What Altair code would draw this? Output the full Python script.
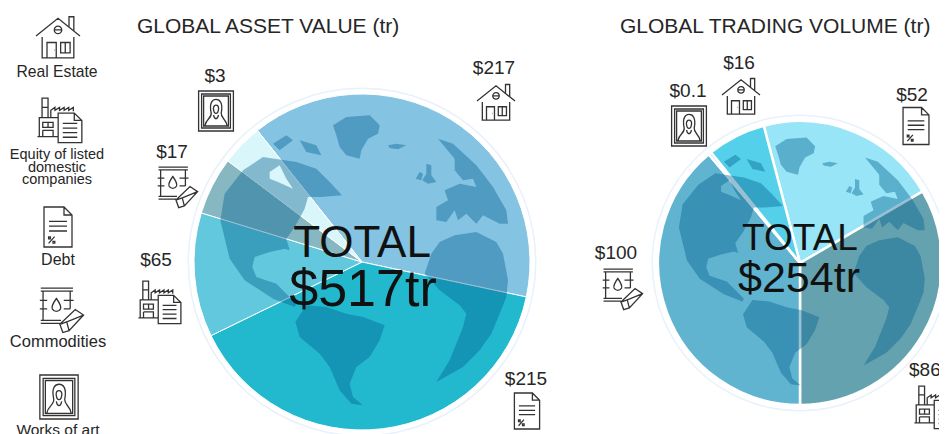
import math
import altair as alt
import pandas as pd

# ---- chart values ----
categories = ["Real Estate", "Debt", "Equity of listed domestic companies", "Commodities", "Works of art"]
asset_labels = ["$217", "$215", "$65", "$17", "$3"]
asset_shares = [140.5, 142.0, 43.0, 20.0, 14.5]      # drawn angular share of each slice
asset_colors = ["#85c3e3", "#22b9cf", "#62c8dd", "#87b8c2", "#d9f6fb"]

trade_categories = ["Debt", "Equity of listed domestic companies", "Commodities", "Works of art", "Real Estate"]
trade_labels = ["$52", "$86", "$100", "$0.1", "$16"]
trade_shares = [74.5, 120.3, 140.0, 1.2, 24.0]
trade_colors = ["#97e5f6", "#64a2b0", "#60b4cf", "#9abfcc", "#55d0ea"]

# coastlines of the backdrop globe (tracing units, centre 697,635)
north_america = [(272,510),(285,430),(340,360),(400,320),(500,335),(560,355),(600,395),(637,435),(575,440),(535,440),(525,475),(495,530),(470,565),(480,600),(465,595),(420,605),(375,620),(368,650),(380,680),(440,700),(470,730),(500,760),(495,770),(430,745),(345,690),(300,625)]
hudson_hole = [(420,365),(420,385),(445,395),(490,415),(470,385),(450,345)]
arctic_a = [(430,280),(470,255),(490,270),(450,300)]
arctic_b = [(510,270),(560,285),(575,315),(530,305)]
greenland = [(610,225),(650,200),(720,195),(750,225),(745,250),(715,265),(695,300),(690,325),(650,315),(630,290),(620,255)]
iceland = [(775,285),(800,280),(830,285),(805,297),(780,293)]
britain = [(890,340),(905,345),(905,375),(920,395),(895,400),(878,390),(890,370)]
ireland = [(870,365),(880,370),(875,390),(858,385)]
eurasia = [(925,265),(970,280),(1040,345),(1090,410),(1130,480),(1135,520),(1110,520),(1060,495),(1040,520),(1010,490),(985,510),(975,480),(950,515),(920,510),(920,470),(955,450),(945,420),(990,400),(1040,410),(1030,385),(1000,390),(975,360),(975,325)]
africa = [(905,610),(930,575),(975,555),(1040,545),(1100,575),(1120,610),(1135,690),(1130,740),(1110,790),(1085,850),(1050,900),(1000,950),(920,995),(960,930),(1000,830),(1010,790),(990,765),(930,720),(885,670)]
south_america = [(497,815),(530,765),(590,770),(650,790),(700,800),(765,825),(750,870),(720,920),(680,950),(660,1000),(670,1040),(700,1065),(665,1060),(630,1020),(600,950),(570,910),(510,860)]
land_parts = [[north_america, hudson_hole], [arctic_a], [arctic_b], [greenland], [iceland], [britain], [ireland], [eurasia], [africa], [south_america]]

# ---- icon outlines (unit box) ----
HOUSE = ("M-1,-.05 L0,-.85 L1,-.05 M-.72,.0 V.95 H.72 V.0 M.5,-.48 V-.92 H.72 V-.3 "
         "M-.17,-.32 a.17,.17 0 1,0 .34,0 a.17,.17 0 1,0 -.34,0 M-.17,-.32 H.17 "
         "M-.5,.95 V.25 H-.08 V.95 M.12,.25 H.55 V.72 H.12 Z M.33,.25 V.72 M-.18,.6 H-.16")
FRAME = ("M-.87,-1 H.87 V1 H-.87 Z M-.72,-.85 H.72 V.85 H-.72 Z M-.62,-.75 H.62 V.75 H-.62 Z "
         "M-.55,.72 C-.5,.4 -.2,.35 -.24,.1 C-.36,-.45 -.15,-.58 0,-.58 C.2,-.58 .36,-.4 .26,.1 C.24,.35 .5,.4 .55,.72 "
         "M-.13,-.12 C-.1,.2 .1,.2 .13,-.12 C.13,-.35 -.13,-.35 -.13,-.12 Z M-.12,.2 C-.08,.45 .08,.45 .12,.2")
DOC = ("M-.7,-1 H.3 L.7,-.6 V1 H-.7 Z M.3,-1 V-.6 H.7 M-.45,-.28 H.45 M-.45,-.04 H.45 M-.45,.2 H.45 "
       "M-.47,.82 L-.17,.48 M-.47,.5 h.09 v.09 h-.09 Z M-.25,.72 h.09 v.09 h-.09 Z")
BARREL = ("M-.88,-.95 H.52 M-.88,-.82 H.52 M-.78,-.82 V.45 M.4,-.82 V-.05 M-.88,.45 H.0 M-.88,.58 H-.05 "
          "M-.92,-.42 H-.6 M-.92,-.05 H-.6 M.12,-.42 H.55 M.12,-.05 H.4 "
          "M-.2,-.5 C-.02,-.25 .02,-.15 -.02,-.05 C-.1,.1 -.3,.1 -.38,-.05 C-.42,-.15 -.38,-.25 -.2,-.5 Z "
          "M-.05,.62 L.62,-.02 L.98,.22 L.35,.9 L.08,.98 Z M.35,.9 L.25,.52 L.98,.22 M.25,.52 L-.05,.62")
FACTORY = ("M-.98,.72 H-.08 M-.9,.72 V-.1 H-.08 M-.78,-.1 V-.95 H-.52 V-.1 M-.78,-.55 H-.52 "
           "M-.4,-.1 V-.42 L-.22,-.55 V-.42 L-.02,-.55 V-.42 L.18,-.55 V-.42 L.38,-.55 V-.42 L.58,-.55 V-.38 "
           "M-.75,.1 H-.3 V.32 H-.75 Z M-.52,.1 V.32 M-.75,.45 H-.3 V.72 M-.75,.45 V.72 "
           "M-.08,-.3 H.62 L.95,.02 V.98 H-.08 Z M.62,-.3 V.02 H.95 M.12,.15 H.75 M.12,.35 H.75 M.12,.55 H.75 M.12,.75 H.75")

FONT = "Liberation Sans"
INK = "#262626"
W, H = 931, 426
OFF = 8


def txt(t, cx, cy, size, align="center", color=INK):
    return alt.Chart(pd.DataFrame({"t": [t]})).mark_text(
        font=FONT, fontSize=size, align=align, baseline="middle", color=color
    ).encode(text="t:N", x=alt.value(cx - OFF), y=alt.value(cy - OFF))


def icon(path, cx, cy, px):
    return alt.Chart(pd.DataFrame({"i": [0]})).mark_point(
        shape=path, size=px * px, filled=False, stroke="#333333", strokeWidth=1.3, opacity=1
    ).encode(x=alt.value(cx - OFF), y=alt.value(cy - OFF))


def pie(cats, shares, colors, start_deg, cx, cy, r, sw):
    df = pd.DataFrame({"cat": cats, "share": shares, "color": colors, "i": range(len(cats))})
    start = math.radians(start_deg)
    return alt.Chart(df).mark_arc(radius=r, stroke="white", strokeWidth=sw).encode(
        theta=alt.Theta("share:Q", stack=True,
                        scale=alt.Scale(domain=[0, sum(shares)], range=[start, start + 2 * math.pi])),
        color=alt.Color("color:N", scale=None),
        order=alt.Order("i:Q"),
        x=alt.value(cx - OFF), y=alt.value(cy - OFF),
    )


def ring(cx, cy, r):
    return alt.Chart(pd.DataFrame({"i": [0]})).mark_arc(
        radius=r + 1.5, radius2=r, theta=0, theta2=2 * math.pi, color="#e8f1fc"
    ).encode(x=alt.value(cx - OFF), y=alt.value(cy - OFF))


def globe_feature(cx, cy, k):
    polys = []
    for rings in land_parts:
        out = []
        for rng in rings:
            pts = [[(x - 697) * k + cx - OFF, (y - 635) * k + cy - OFF] for x, y in rng]
            out.append(pts + [pts[0]])
        polys.append(out)
    return {"type": "Feature", "properties": {}, "geometry": {"type": "MultiPolygon", "coordinates": polys}}


land = alt.Chart(alt.Data(values=[globe_feature(362, 262, 1 / 3), globe_feature(800, 263, 0.285)])).mark_geoshape(
    fill="#00608f", fillOpacity=0.4, strokeWidth=0
).project(type="identity", scale=1, translate=[0, 0])

layers = [
    ring(362, 262, 173),
    ring(800, 263, 147),
    pie(categories, asset_shares, asset_colors, 321.5, 362, 262, 168, 1),
    pie(trade_categories, trade_shares, trade_colors, 345.2, 800, 263, 142, 2.5),
    land,
]

layers += [
    txt("GLOBAL ASSET VALUE (tr)", 137, 27, 21, "left"),
    txt("GLOBAL TRADING VOLUME (tr)", 620, 27, 21, "left"),
    txt("TOTAL", 362, 244, 44, color="#111111"),
    txt("$517tr", 363, 290, 52, color="#111111"),
    txt("TOTAL", 800, 239, 37, color="#111111"),
    txt("$254tr", 799, 279, 43, color="#111111"),
]

# legend column
layers += [
    icon(HOUSE, 58, 37, 44), txt(categories[0], 57, 72, 15.7),
    icon(FACTORY, 60, 120, 46),
    txt("Equity of listed", 57, 155, 14.5), txt("domestic", 57, 168, 14.5), txt("companies", 57, 180, 14.5),
    icon(DOC, 58, 227, 40), txt(categories[1], 58, 260, 16),
    icon(BARREL, 61, 310, 46), txt(categories[3], 58, 342, 16.5),
    icon(FRAME, 59, 397, 44), txt(categories[4], 58, 430, 15.5),
]

# asset pie callouts
layers += [
    txt(asset_labels[0], 494, 68, 19), icon(HOUSE, 496, 102, 38),
    txt(asset_labels[1], 526, 379, 19), icon(DOC, 527, 411, 36),
    txt(asset_labels[2], 156, 260, 19), icon(FACTORY, 160, 302, 44),
    txt(asset_labels[3], 172, 152, 19), icon(BARREL, 177, 187, 42),
    txt(asset_labels[4], 215, 76, 19), icon(FRAME, 216, 111, 40),
]

# trading pie callouts
layers += [
    txt(trade_labels[0], 912, 95, 19), icon(DOC, 916, 126, 37),
    txt(trade_labels[1], 909, 370, 19, "left"), icon(FACTORY, 936, 407, 44),
    txt(trade_labels[2], 616, 253, 19), icon(BARREL, 622, 289, 42),
    txt(trade_labels[3], 688, 91, 19), icon(FRAME, 689, 126, 40),
    txt(trade_labels[4], 739, 63, 19), icon(HOUSE, 741, 96, 38),
]

chart = alt.layer(*layers).resolve_scale(theta="independent", color="independent").properties(
    width=W, height=H, padding=0, background="white",
    autosize=alt.AutoSizeParams(type="none"),
).configure_view(stroke=None)

chart.save("out.html", embed_options={"renderer": "svg", "actions": False})
